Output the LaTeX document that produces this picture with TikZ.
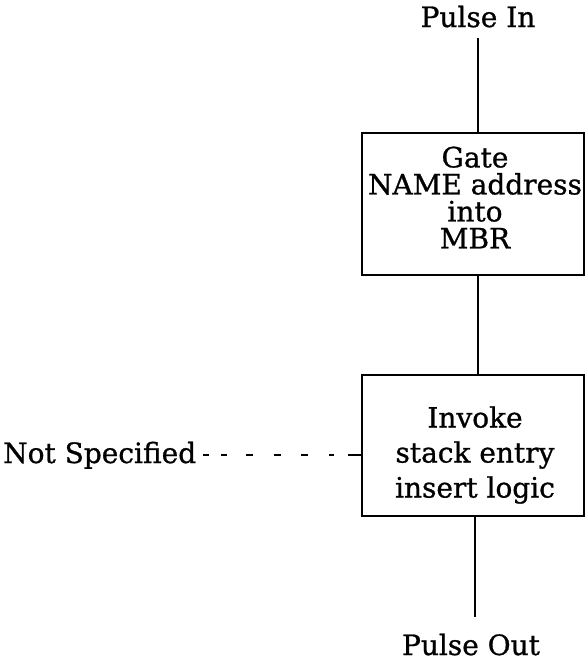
\documentclass[tikz,border=0pt]{standalone}
\usepackage{fontspec}
\setmainfont{DejaVu Serif}
\newfontfamily\heavyserif{DejaVu Serif}[RawFeature={embolden=0.9}]
\begin{document}
\begin{tikzpicture}[x=1pt,y=-1pt,
  lbl/.style={inner sep=0pt, font=\heavyserif\fontsize{28}{27}\selectfont},
  boxshape/.style={draw, line width=2.5pt, minimum width=222pt, inner sep=0pt},
  wire/.style={line width=2.5pt},
  dashwire/.style={line width=2pt, dash pattern=on 6pt off 12pt on 6pt off 19pt on 7pt off 21pt on 7pt off 20pt on 7pt off 21pt on 5pt off 14pt on 30pt}]
\useasboundingbox (0,0) rectangle (585,662);
\node[lbl, anchor=base] (pin) at (478,27) {Pulse In};
\node[boxshape, minimum height=142pt] (b1) at (473,204) {};
\node[lbl, align=center, font=\heavyserif\fontsize{28}{27}\selectfont] (t1) at (475,197.5) {Gate\\NAME address\\into\\MBR};
\node[boxshape, minimum height=141pt] (b2) at (473,445.5) {};
\node[lbl, align=center, font=\heavyserif\fontsize{28}{35}\selectfont] (t2) at (475,455) {Invoke\\stack entry\\insert logic};
\node[lbl, anchor=base west] (ns) at (3,463) {Not Specified};
\node[lbl, anchor=base] (pout) at (471,655) {Pulse Out};
\coordinate (dl) at (203,455);
\coordinate (lo) at (475,617);
\draw[wire, shorten <=10pt] (pin.south) -- (pin.south |- b1.north);
\draw[wire] (b1.south -| pin.south) -- (b2.north -| pin.south);
\draw[wire] (b2.south -| lo) -- (lo);
\draw[dashwire] (dl) -- (dl -| b2.west);
\end{tikzpicture}
\end{document}
